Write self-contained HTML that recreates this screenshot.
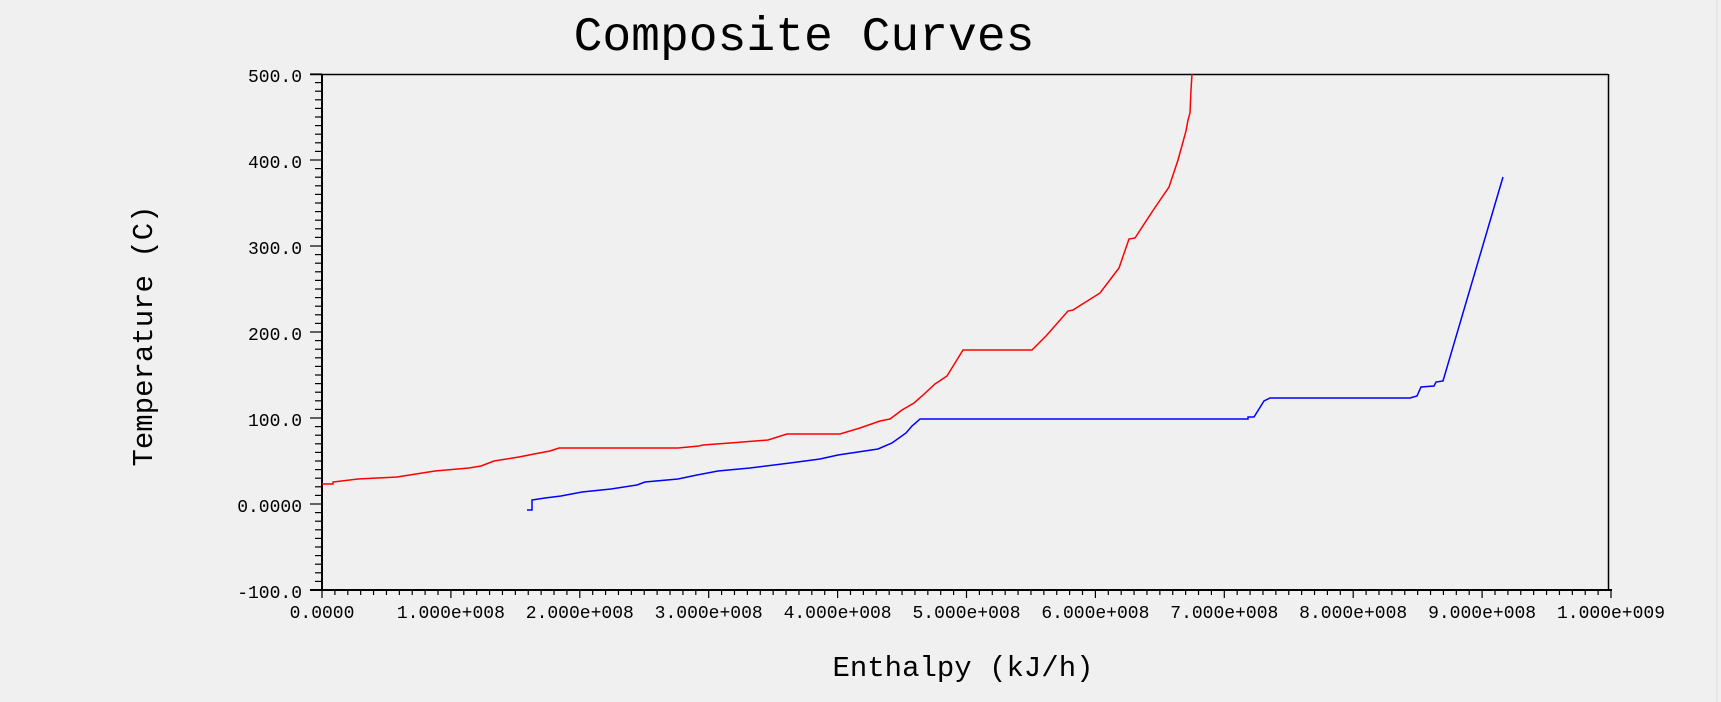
<!DOCTYPE html>
<html><head><style>
html,body{margin:0;padding:0;background:#f0f0f0;}
svg{display:block;}
text{font-family:"Liberation Mono",monospace;fill:#000;}
</style></head><body>
<svg width="1721" height="702" viewBox="0 0 1721 702" xmlns="http://www.w3.org/2000/svg">
<rect width="1721" height="702" fill="#f0f0f0"/>
<line x1="1717" y1="0" x2="1717" y2="702" stroke="#dcdcdc" stroke-width="1"/>
<text x="804" y="50" font-size="48" text-anchor="middle">Composite Curves</text>
<text x="963" y="676" font-size="29" text-anchor="middle">Enthalpy (kJ/h)</text>
<text transform="translate(152,336) rotate(-90)" font-size="29" text-anchor="middle">Temperature (C)</text>
<g stroke="#000" fill="none">
<line x1="310" y1="74.5" x2="1608" y2="74.5" stroke-width="1.5"/>
<line x1="1608.5" y1="74" x2="1608.5" y2="590" stroke-width="1.5"/>
<line x1="322" y1="74" x2="322" y2="591" stroke-width="2"/>
<line x1="310" y1="590" x2="1612" y2="590" stroke-width="2"/>
</g>
<g id="yt" stroke="#000" stroke-width="1.2"></g>
<g id="xt" stroke="#000" stroke-width="1.2"></g>
<g id="yl" font-size="18" text-anchor="end"></g>
<g id="xl" font-size="18" text-anchor="middle"></g>
<polyline fill="none" stroke="#ff0000" stroke-width="1.5" points="322,484 333,484 333,482 358,479 397,477 435,471 469,468 481,466 494,461 519,457 534,454 550,451 559,448 678,448 699,446 703,445 730,443 768,440 787,434 840,434 860,428 880,421 890,419 902,410 914,403 922,396 935,384 947,376 963,350 1032,350 1046,336 1068,311 1073,310 1100,293 1119,268 1129,239 1135,238 1154,209 1169,187 1178,160 1186,131 1188,120 1190,113 1191,90 1192,74"/>
<polyline fill="none" stroke="#0000ff" stroke-width="1.5" points="527,510 532,510 532,500 545,498 561,496 582,492 611,489 637,485 645,482 678,479 697,475 718,471 750,468 790,463 820,459 838,455 878,449 892,443 906,433 912,426 919,420 920,419 1248,419 1248,417 1254,417 1264,401 1270,398 1410,398 1417,396 1421,387 1434,386 1436,382 1443,381 1503,177"/>
<script>
var ns="http://www.w3.org/2000/svg";
function el(p,n,a,t){var e=document.createElementNS(ns,n);for(var k in a)e.setAttribute(k,a[k]);if(t)e.textContent=t;document.getElementById(p).appendChild(e);}
var ylab=["500.0","400.0","300.0","200.0","100.0","0.0000","-100.0"];
for(var i=0;i<=60;i++){var y=74+i*8.6;var maj=i%10==0;
 el("yt","line",{x1:maj?310:315,y1:y,x2:322,y2:y});
 if(maj)el("yl","text",{x:302,y:y+8},ylab[i/10]);}
var xlab=["0.0000","1.000e+008","2.000e+008","3.000e+008","4.000e+008","5.000e+008","6.000e+008","7.000e+008","8.000e+008","9.000e+008","1.000e+009"];
for(var i=0;i<=100;i++){var x=322+i*12.89;var maj=i%10==0;
 el("xt","line",{x1:x,y1:590,x2:x,y2:maj?598:595});
 if(maj)el("xl","text",{x:x,y:618},xlab[i/10]);}
</script>
</svg>
</body></html>
